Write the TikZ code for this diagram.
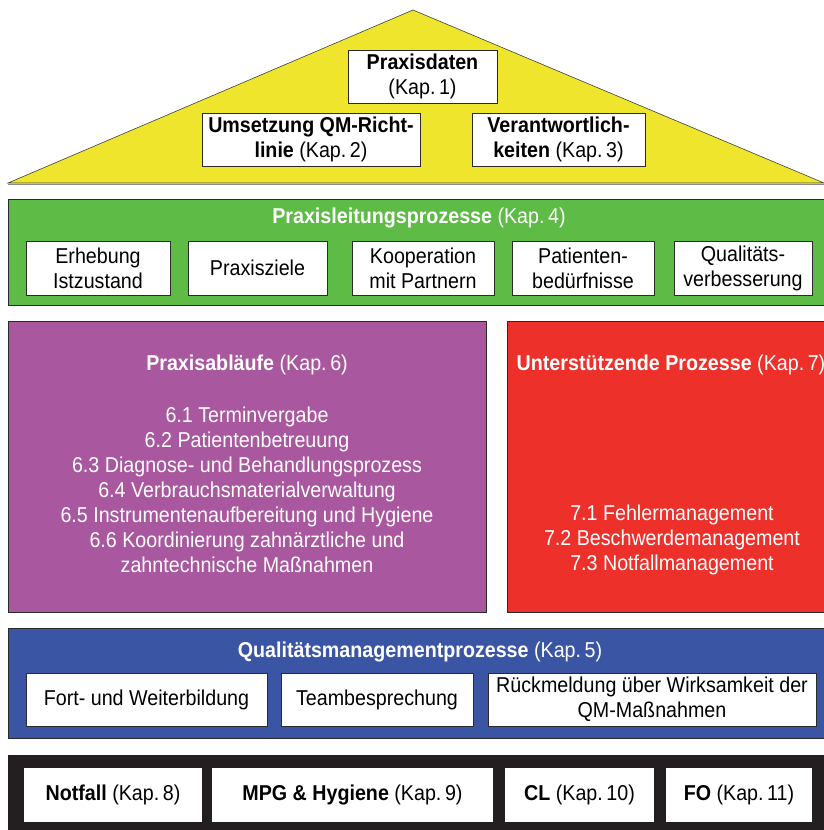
\documentclass[tikz,border=0pt]{standalone}
\usepackage{fontspec}
\setmainfont{Liberation Sans}[FakeStretch=0.915]
\definecolor{roof}{HTML}{EFE52C}
\definecolor{grn}{HTML}{5DBB46}
\definecolor{purp}{HTML}{A958A0}
\definecolor{rd}{HTML}{EE302A}
\definecolor{blu}{HTML}{3A55A4}
\definecolor{blk}{HTML}{231F20}
\definecolor{edge}{HTML}{2A2A2A}
\newcommand{\fsz}{\fontsize{21.5}{25}\selectfont}
\tikzset{
  band/.style={draw=edge, line width=0.8pt},
  wbox/.style={draw=edge, line width=0.9pt, fill=white, align=center, inner sep=0pt, font=\fsz},
  wtext/.style={text=white, align=center, inner sep=0pt, font=\fsz},
}
\begin{document}
\begin{tikzpicture}[x=1pt,y=-1pt]
\useasboundingbox (0,0) rectangle (824,830);
% roof
\fill[roof, draw=black!75, line width=0.6pt] (413,10) -- (824,183) -- (8,183) -- cycle;
\draw[black!45, line width=1pt] (8,184.5) -- (824,184.5);
\node[wbox, minimum width=149pt, minimum height=53pt] (k1) at (422.5,76.5) {\textbf{Praxisdaten}\\(Kap.\,1)};
\node[wbox, minimum width=218pt, minimum height=53pt] (k2) at (311,139.5) {\textbf{Umsetzung QM-Richt-}\\\textbf{linie} (Kap.\,2)};
\node[wbox, minimum width=173pt, minimum height=53pt] (k3) at (558.5,139.5) {\textbf{Verantwortlich-}\\\textbf{keiten} (Kap.\,3)};
% green band
\draw[band, fill=grn] (8,199) rectangle (824,305);
\node[wtext] (t4) at (419,218) {\textbf{Praxisleitungsprozesse} (Kap.\,4)};
\node[wbox, minimum width=144pt, minimum height=54pt] (g1) at (98,268) {Erhebung\\Istzustand};
\node[wbox, minimum width=139pt, minimum height=54pt] (g2) at (257.5,268) {Praxisziele};
\node[wbox, minimum width=142pt, minimum height=54pt] (g3) at (423,268) {Kooperation\\mit Partnern};
\node[wbox, minimum width=142pt, minimum height=54pt] (g4) at (583,268) {Patienten-\\bedürfnisse};
\node[wbox, minimum width=138pt, minimum height=54pt] (g5) at (743,268) {Qualitäts-\\verbesserung};
% purple
\draw[band, fill=purp] (8,321) rectangle (486,612);
\node[wtext] (t6) at (247,365) {\textbf{Praxisabläufe} (Kap.\,6)};
\node[wtext] (l6) at (247,489.5) {6.1 Terminvergabe\\6.2 Patientenbetreuung\\6.3 Diagnose- und Behandlungsprozess\\6.4 Verbrauchsmaterialverwaltung\\6.5 Instrumentenaufbereitung und Hygiene\\6.6 Koordinierung zahnärztliche und\\zahntechnische Maßnahmen};
% red
\draw[band, fill=rd] (507,321) rectangle (824,612);
\node[wtext] (t7) at (671,365) {\textbf{Unterstützende Prozesse} (Kap.\,7)};
\node[wtext] (l7) at (672,540) {7.1 Fehlermanagement\\7.2 Beschwerdemanagement\\7.3 Notfallmanagement};
% blue
\draw[band, fill=blu] (8,628) rectangle (824,738);
\node[wtext] (t5) at (420,652) {\textbf{Qualitätsmanagementprozesse} (Kap.\,5)};
\node[wbox, minimum width=241pt, minimum height=53pt] (b1) at (146.5,699.5) {Fort- und Weiterbildung};
\node[wbox, minimum width=192pt, minimum height=53pt] (b2) at (377,699.5) {Teambesprechung};
\node[wbox, minimum width=328pt, minimum height=53pt] (b3) at (652,699.5) {Rückmeldung über Wirksamkeit der\\QM-Maßnahmen};
% black
\fill[blk] (8,755) rectangle (824,830);
\node[wbox, draw=none, minimum width=178pt, minimum height=54pt] (s1) at (113,795) {\textbf{Notfall} (Kap.\,8)};
\node[wbox, draw=none, minimum width=281pt, minimum height=54pt] (s2) at (352.5,795) {\textbf{MPG \& Hygiene} (Kap.\,9)};
\node[wbox, draw=none, minimum width=149pt, minimum height=54pt] (s3) at (579.5,795) {\textbf{CL} (Kap.\,10)};
\node[wbox, draw=none, minimum width=146pt, minimum height=54pt] (s4) at (739,795) {\textbf{FO} (Kap.\,11)};
\end{tikzpicture}
\end{document}
